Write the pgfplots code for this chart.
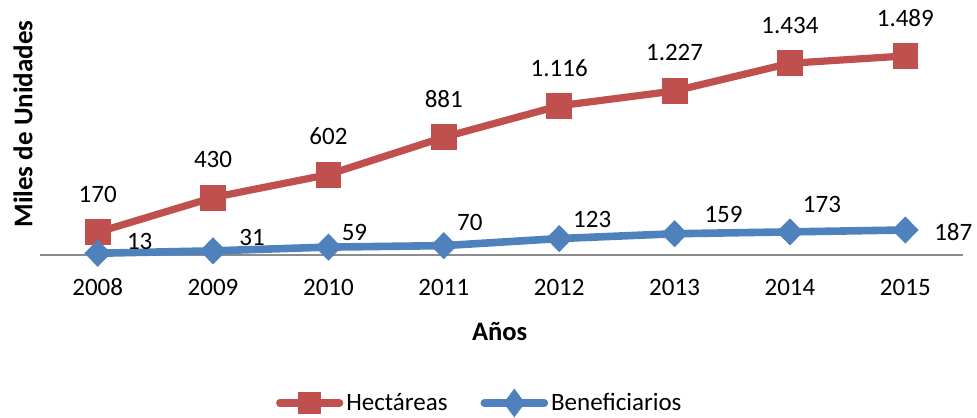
\documentclass[border=0pt]{standalone}
\usepackage{pgfplots}
\pgfplotsset{compat=1.18}
\usepackage{pgfplotstable}
\usepackage{fontspec}
\setmainfont{Carlito}
\definecolor{hred}{HTML}{C0504D}
\definecolor{bblue}{HTML}{4F81BD}

\pgfplotstableread{
x y lbl
0 170 170
1 430 430
2 602 602
3 881 881
4 1116 1.116
5 1227 1.227
6 1434 1.434
7 1489 1.489
}\hect

\pgfplotstableread{
x y lbl dx dy
0 13 13 21 6
1 31 31 19.5 6.5
2 59 59 13 7.5
3 70 70 13 11.5
4 123 123 16.5 9.3
5 159 159 24.5 9.5
6 173 173 16 13.5
7 187 187 24 -1
}\benef

\begin{document}
\begin{tikzpicture}[font=\fontsize{12.5pt}{15pt}\selectfont]
\useasboundingbox (-20pt,-81pt) rectangle (468.5pt,127.5pt);
\begin{axis}[
  at={(0pt,0pt)}, anchor=south west,
  scale only axis, width=461.5pt, height=125pt,
  xmin=-0.5, xmax=7.5, ymin=0, ymax=1870,
  axis x line*=bottom, axis y line*=left,
  y axis line style={draw=none},
  x axis line style={draw=black!45, line width=0.9pt, -},
  xtick={0,...,7}, xticklabels={2008,2009,2010,2011,2012,2013,2014,2015},
  major tick length=0pt,
  xticklabel style={anchor=center, yshift=-16pt, text=black},
  ytick=\empty,
  clip=false,
  xlabel={Años},
  x label style={at={(axis description cs:0.498,-0.305)}, anchor=center, font=\fontsize{13.3pt}{16pt}\selectfont\bfseries},
  ylabel={Miles de Unidades},
  y label style={at={(axis description cs:-0.0184,0.524)}, anchor=center, font=\fontsize{13.5pt}{16pt}\selectfont\bfseries},
  legend columns=2,
  legend style={draw=none, fill=none, at={(axis description cs:0.477,-0.592)}, anchor=center,
    nodes={inner sep=1.5pt},
    /tikz/every even column/.append style={column sep=15pt}},
  legend image code/.code={\draw[mark repeat=2,mark phase=2,#1,line cap=round,mark options={scale=0.62}] plot coordinates {(0pt,0pt) (15pt,0pt) (30pt,0pt)};},
]
\addplot[color=hred, line width=3.6pt, mark=square*, mark size=6.2pt,
  mark options={solid, fill=hred, draw=hred, line width=0.4pt},
  nodes near coords, point meta=explicit symbolic,
  every node near coord/.style={anchor=center, yshift=19pt, text=black, font=\fontsize{12.5pt}{15pt}\selectfont}]
  table[x=x, y=y, meta=lbl] {\hect};
\addlegendentry{Hectáreas}
\addplot[color=bblue, line width=3.8pt, mark=diamond*, mark size=6.5pt,
  mark options={solid, fill=bblue, draw=bblue, line width=0.4pt, xscale=1.3},
  nodes near coords, point meta=explicit symbolic,
  visualization depends on={\thisrow{dx} \as \dx},
  visualization depends on={\thisrow{dy} \as \dy},
  every node near coord/.style={anchor=center, xshift={\dx*1pt}, yshift={\dy*1pt}, text=black, font=\fontsize{12.5pt}{15pt}\selectfont}]
  table[x=x, y=y, meta=lbl] {\benef};
\addlegendentry{Beneficiarios}
\end{axis}
\end{tikzpicture}
\end{document}
